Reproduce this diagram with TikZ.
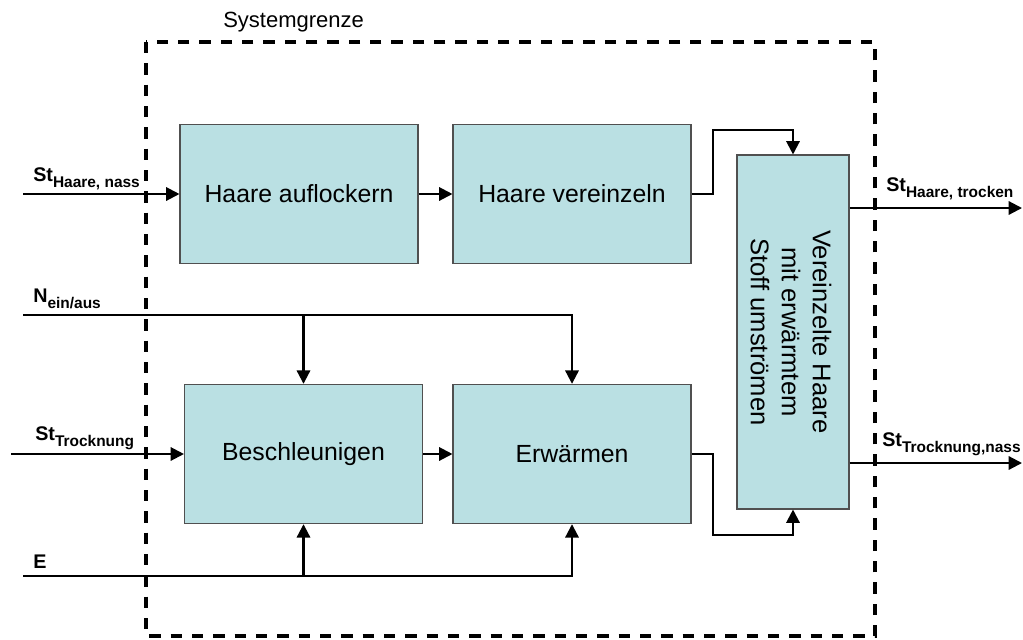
\documentclass[tikz,border=0pt]{standalone}
\usepackage{fontspec}
\setmainfont{Liberation Sans}
\usetikzlibrary{arrows.meta}
\definecolor{prozessfill}{RGB}{186,224,227}
\definecolor{prozessrand}{RGB}{80,80,80}
\newcommand{\groesse}[1]{\textbf{#1}}
\newcommand{\tiefindex}[1]{\raisebox{-5pt}{\fontsize{11.6}{11.6}\selectfont\textbf{#1}}}

\begin{document}
\begin{tikzpicture}[x=0.75pt,y=0.75pt,yscale=-1,xscale=1,
  prozess/.style={draw=prozessrand,line width=0.8pt,fill=prozessfill,minimum width=178.5pt,minimum height=104.5pt,inner sep=0pt,align=center,font=\fontsize{18.6}{23.25}\selectfont},
  pfeil/.style={line width=1.6pt,-{Triangle[length=10pt,width=10pt]}},
  grenze/.style={line width=2.4pt,dash pattern=on 8.5pt off 7.5pt},
  beschriftung/.style={anchor=base west,inner sep=0pt,font=\fontsize{14.8}{14.8}\selectfont}]
\useasboundingbox (0,0) rectangle (1023,639);

%Systemgrenze
\draw[grenze] (146,42) rectangle (875,636);
\node[anchor=base west,inner sep=0pt,font=\fontsize{16.5}{16.5}\selectfont] (grenzeText) at (223,27) {Systemgrenze};

%Prozesse
\node[prozess] (auflockern) at (299,194) {Haare auflockern};
\node[prozess] (vereinzeln) at (572,194) {Haare vereinzeln};
\node[prozess] (beschleunigen) at (303.5,454) {Beschleunigen};
\node[prozess] (erwaermen) at (572,454) {Erwärmen};
\node[prozess,minimum width=84pt,minimum height=265.5pt] (umstroemen) at (793,332) {};
\node[rotate=-90,align=center,inner sep=0pt,font=\fontsize{19.2}{23.25}\selectfont] (umstroemenText) at (791,332) {Vereinzelte Haare\\mit erwärmtem\\Stoff umströmen};

%Hilfspunkte
\coordinate (inHaare) at (23,194);
\coordinate (inN) at (23,315);
\coordinate (inTrocknung) at (11,454);
\coordinate (inE) at (23,576);
\coordinate (outTrocken) at (1022,208);
\coordinate (outNass) at (1022,463);
\coordinate (knickOben) at (713,130);
\coordinate (knickUnten) at (713,535);

%Verbindungen
\draw[pfeil] (inHaare) -- (auflockern.west);
\draw[pfeil] (auflockern.east) -- (vereinzeln.west);
\draw[pfeil] (vereinzeln.east) -| (knickOben) -| (umstroemen.north);
\draw[pfeil] (outTrocken -| umstroemen.east) -- (outTrocken);
\draw[pfeil] (inN) -| (erwaermen.north);
\draw[pfeil] (inN -| beschleunigen.north) -- (beschleunigen.north);
\draw[pfeil] (inTrocknung) -- (beschleunigen.west);
\draw[pfeil] (beschleunigen.east) -- (erwaermen.west);
\draw[pfeil] (erwaermen.east) -| (knickUnten) -| (umstroemen.south);
\draw[pfeil] (outNass -| umstroemen.east) -- (outNass);
\draw[pfeil] (inE) -| (erwaermen.south);
\draw[pfeil] (inE -| beschleunigen.south) -- (beschleunigen.south);

% Text Node
\node[beschriftung] (lblHaareNass) at (33,181) {\groesse{St}\tiefindex{Haare, nass}};
\node[beschriftung] (lblN) at (33,302) {\groesse{N}\tiefindex{ein/aus}};
\node[beschriftung] (lblTrocknung) at (35,440) {\groesse{St}\tiefindex{Trocknung}};
\node[beschriftung] (lblE) at (33,568) {\groesse{E}};
\node[beschriftung] (lblTrocken) at (886,191) {\groesse{St}\tiefindex{Haare, trocken}};
\node[beschriftung] (lblNass) at (882,446) {\groesse{St}\tiefindex{Trocknung,nass}};

\end{tikzpicture}
\end{document}
